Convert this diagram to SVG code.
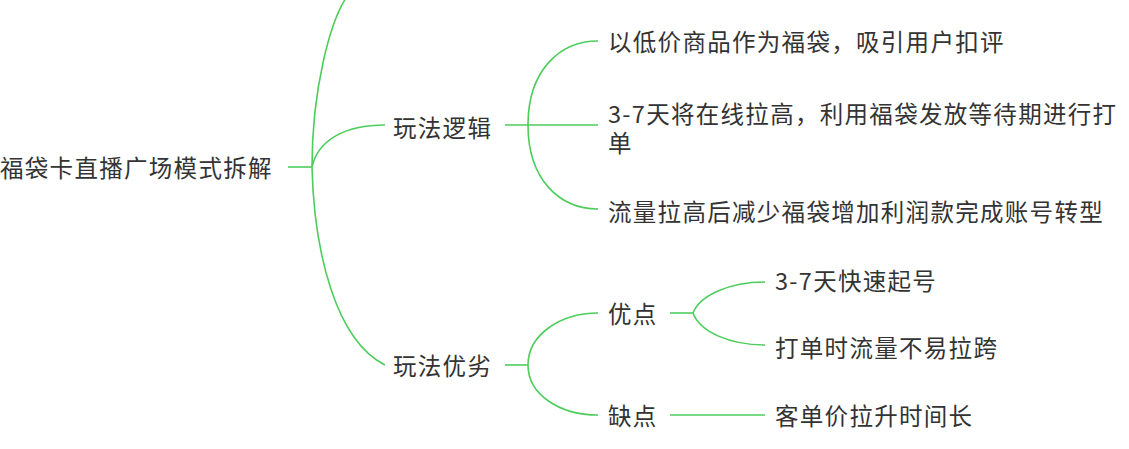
<svg xmlns="http://www.w3.org/2000/svg" width="1129" height="449" viewBox="0 0 1129 449">
<style>
text{font-family:"Noto Sans CJK SC","Noto Sans",sans-serif;font-size:23.5px;letter-spacing:1.3px;fill:#333;dominant-baseline:central}
.c path{fill:none;stroke:#4ccd5c;stroke-width:1.6}
</style>
<rect width="1129" height="449" fill="#fff"/>
<g class="c">
<path d="M288 167H312"/>
<path d="M312 167C312 90 330 20 348 -5"/>
<path d="M312 167C318 140 345 125 385 125"/>
<path d="M312 167C314 250 335 340 385 365"/>
<path d="M505 125H598"/>
<path d="M528 125C528 70 560 41 598 41"/>
<path d="M528 125C528 180 560 209 598 209"/>
<path d="M505 365H528"/>
<path d="M528 365C528 335 560 313 598 313"/>
<path d="M528 365C528 395 560 415 598 415"/>
<path d="M670 313H693"/>
<path d="M693 313C700 295 730 282 765 282"/>
<path d="M693 313C700 332 730 345 765 345"/>
<path d="M670 415H765"/>
</g>
<g id="root"><text x="0" y="167">福袋卡直播广场模式拆解</text></g>
<g id="n1"><text x="393" y="127">玩法逻辑</text></g>
<g id="n1a"><text x="608" y="41">以低价商品作为福袋，吸引用户扣评</text></g>
<g id="n1b"><text x="608" y="113">3-7天将在线拉高，利用福袋发放等待期进行打</text><text x="608" y="142">单</text></g>
<g id="n1c"><text x="608" y="211">流量拉高后减少福袋增加利润款完成账号转型</text></g>
<g id="n2"><text x="393" y="365">玩法优劣</text></g>
<g id="n2a"><text x="608" y="313">优点</text></g>
<g id="n2a1"><text x="775" y="280">3-7天快速起号</text></g>
<g id="n2a2"><text x="775" y="347">打单时流量不易拉跨</text></g>
<g id="n2b"><text x="608" y="415">缺点</text></g>
<g id="n2b1"><text x="775" y="415">客单价拉升时间长</text></g>
</svg>
